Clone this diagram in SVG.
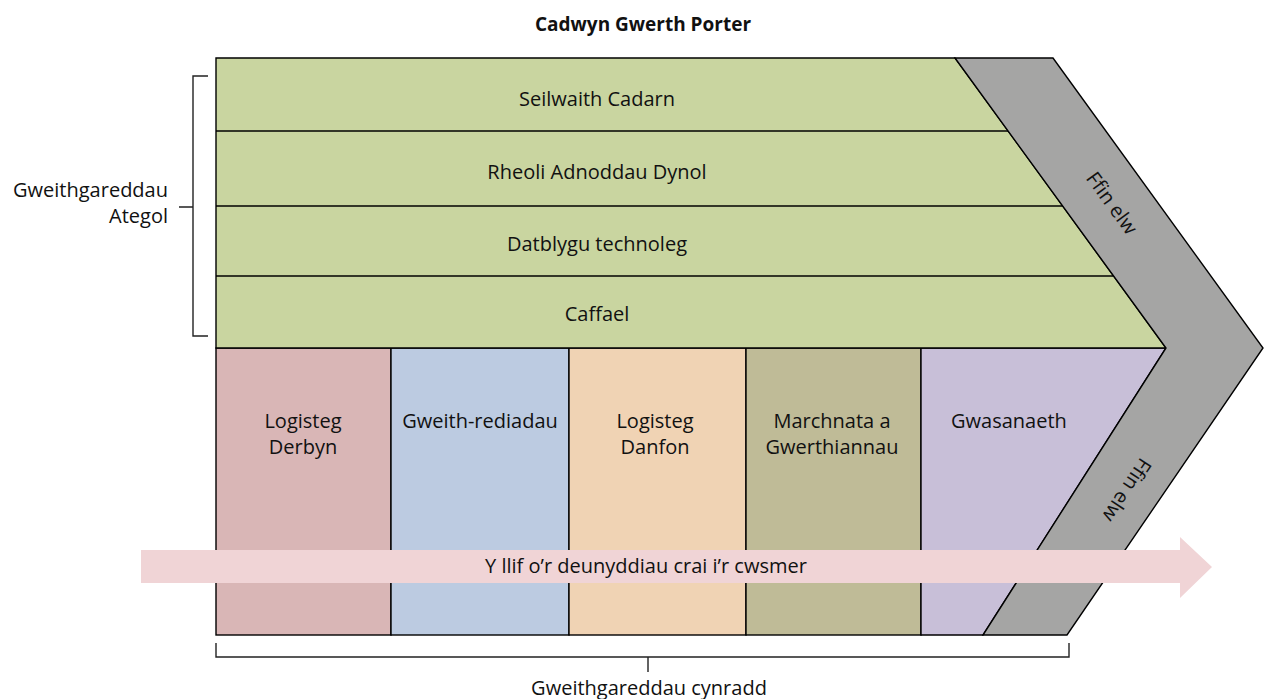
<svg xmlns="http://www.w3.org/2000/svg" width="1264" height="699" viewBox="0 0 1264 699">
  <style>
    text { font-family: "Open Sans", "Noto Sans", "Liberation Sans", sans-serif; font-size: 20px; fill: #111; }
    .mid { text-anchor: middle; }
    .end { text-anchor: end; }
    .title { font-weight: bold; font-size: 19px; }
    .edge { stroke: #000; stroke-width: 1.4; }
    .bracket { fill: none; stroke: #222; stroke-width: 1.4; }
  </style>

  <rect width="1264" height="699" fill="#ffffff"/>

  <text class="mid title" x="643" y="31">Cadwyn Gwerth Porter</text>

  <!-- primary activities -->
  <g id="logisteg-derbyn">
    <rect class="edge" x="216" y="348" width="175" height="287" fill="#D9B6B6"/>
    <text class="mid" x="303" y="428">Logisteg</text>
    <text class="mid" x="303" y="454">Derbyn</text>
  </g>
  <g id="gweithrediadau">
    <rect class="edge" x="391" y="348" width="178" height="287" fill="#BCCBE1"/>
    <text class="mid" x="480" y="428">Gweith-rediadau</text>
  </g>
  <g id="logisteg-danfon">
    <rect class="edge" x="569" y="348" width="177" height="287" fill="#F0D3B4"/>
    <text class="mid" x="655" y="428">Logisteg</text>
    <text class="mid" x="655" y="454">Danfon</text>
  </g>
  <g id="marchnata">
    <rect class="edge" x="746" y="348" width="175" height="287" fill="#BFBB97"/>
    <text class="mid" x="832" y="428">Marchnata a</text>
    <text class="mid" x="832" y="454">Gwerthiannau</text>
  </g>
  <g id="gwasanaeth">
    <polygon class="edge" points="921,348 1166,348 983,635 921,635" fill="#C8BFD8"/>
    <text x="951" y="428">Gwasanaeth</text>
  </g>

  <!-- support activities -->
  <g id="atodol">
    <polygon class="edge" points="216,58 955,58 1166,348 216,348" fill="#C9D5A0"/>
    <line class="edge" x1="216" y1="131" x2="1008" y2="131"/>
    <line class="edge" x1="216" y1="206" x2="1063" y2="206"/>
    <line class="edge" x1="216" y1="276" x2="1113" y2="276"/>
    <text class="mid" x="597" y="106">Seilwaith Cadarn</text>
    <text class="mid" x="597" y="179">Rheoli Adnoddau Dynol</text>
    <text class="mid" x="597" y="251">Datblygu technoleg</text>
    <text class="mid" x="597" y="321">Caffael</text>
  </g>

  <!-- margin chevron -->
  <g id="ffin-elw">
    <polygon class="edge" points="955,58 1053,58 1263,348 1067,635 983,635 1166,348" fill="#A5A5A4"/>
    <text class="mid" transform="translate(1112,203) rotate(54)" y="7">Ffin elw</text>
    <text class="mid" transform="translate(1127,490) rotate(123.5)" y="7">Ffin elw</text>
  </g>

  <!-- flow arrow -->
  <g id="llif">
    <polygon points="141,550 1180,550 1180,537 1212,567 1180,598 1180,583 141,583" fill="#F0D4D6"/>
    <text class="mid" x="646" y="573">Y llif o’r deunyddiau crai i’r cwsmer</text>
  </g>

  <!-- brackets -->
  <g id="connectors">
    <path class="bracket" d="M208,76 H193 V336 H208 M193,207 H179"/>
    <path class="bracket" d="M216,643 V657 H1069 V643 M648,657 V672"/>
  </g>

  <g id="label-ategol">
    <text class="end" x="168" y="197">Gweithgareddau</text>
    <text class="end" x="168" y="223">Ategol</text>
  </g>
  <g id="label-cynradd">
    <text class="mid" x="649" y="695">Gweithgareddau cynradd</text>
  </g>
</svg>
